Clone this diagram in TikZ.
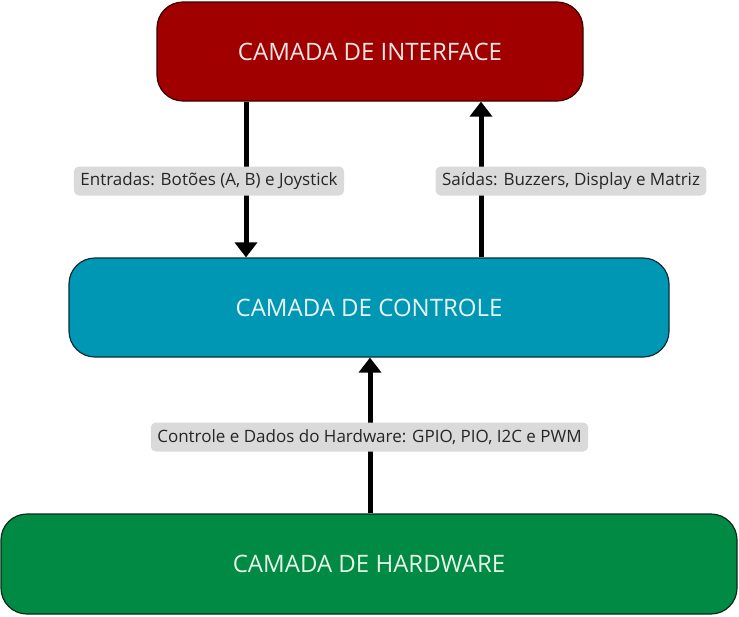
\documentclass[tikz,border=0pt]{standalone}
\usepackage{fontspec}
\setmainfont{Open Sans}
\usetikzlibrary{arrows.meta}
\definecolor{ifred}{HTML}{A00000}
\definecolor{ifredb}{HTML}{3A0000}
\definecolor{ctteal}{HTML}{0097B4}
\definecolor{cttealb}{HTML}{0A2A38}
\definecolor{hwgreen}{HTML}{008A44}
\definecolor{hwgreenb}{HTML}{0A2A18}
\definecolor{lblgray}{HTML}{DADADA}
\definecolor{txtred}{HTML}{F4E6E6}
\definecolor{txtteal}{HTML}{EAF6F9}
\definecolor{txtgreen}{HTML}{E6F6EA}
\tikzset{
  layer/.style={rounded corners=26pt, line width=1.2pt},
  title/.style={font=\fontsize{24}{28}\selectfont},
  lbl/.style={fill=lblgray, rounded corners=5pt, text=black!85, font=\fontsize{17}{20}\selectfont, inner xsep=6.5pt, inner ysep=0pt, minimum height=29pt},
  flow/.style={line width=5pt, -{Triangle[width=22pt,length=15pt]}}
}
\begin{document}
\begin{tikzpicture}[x=1pt,y=-1pt]
\useasboundingbox (0,0) rectangle (739,616);
\draw[layer, fill=ifred, draw=ifredb] (157,2) rectangle (583,101);
\node[title, text=txtred] (iface) at (370,51.5) {CAMADA DE INTERFACE};
\draw[layer, fill=ctteal, draw=cttealb] (69,258) rectangle (669,357);
\node[title, text=txtteal] (ctrl) at (369,307.5) {CAMADA DE CONTROLE};
\draw[layer, fill=hwgreen, draw=hwgreenb] (1,514) rectangle (737,614);
\node[title, text=txtgreen] (hw) at (369,563.5) {CAMADA DE HARDWARE};
\coordinate (a1s) at (246,101.6);
\coordinate (a1e) at (246,257.4);
\coordinate (a2s) at (481,257.4);
\coordinate (a2e) at (481,101.6);
\coordinate (a3s) at (370,513.4);
\coordinate (a3e) at (370,357.6);
\draw[flow] (a1s) -- (a1e);
\draw[flow] (a2s) -- (a2e);
\draw[flow] (a3s) -- (a3e);
\node[lbl] (l1) at (209,181) {Entradas: Botões (A, B) e Joystick};
\node[lbl] (l2) at (571,181) {Saídas: Buzzers, Display e Matriz};
\node[lbl] (l3) at (369.5,437) {Controle e Dados do Hardware: GPIO, PIO, I2C e PWM};
\end{tikzpicture}
\end{document}
